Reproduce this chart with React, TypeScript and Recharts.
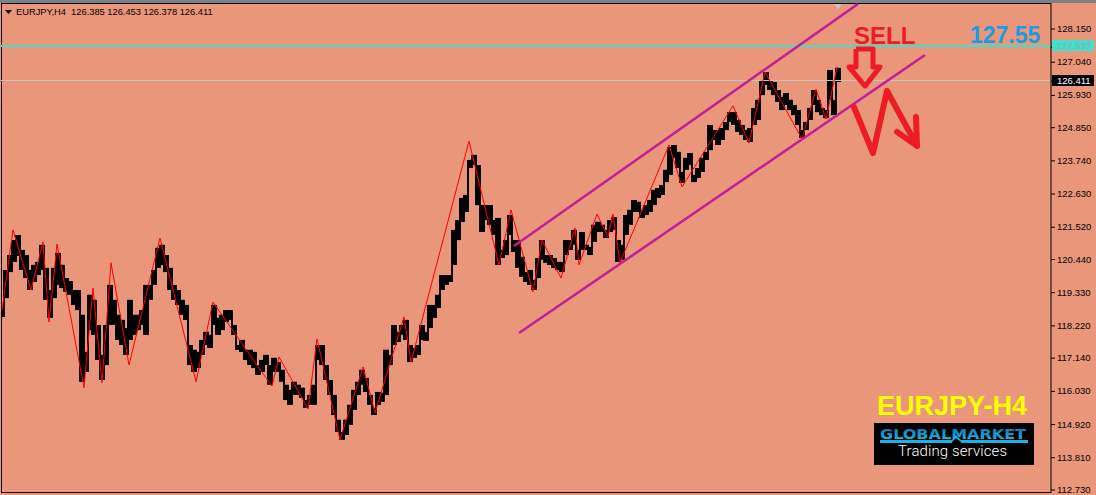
import React from 'react';
import { ComposedChart, Bar, Line, XAxis, YAxis, ReferenceLine } from 'recharts';

const WIDTH = 1096;
const HEIGHT = 495;
const SALMON = '#E9967A';
const RED = '#ed1c24';
const PURPLE = '#c01f98';
const AXIS_FONT = '"Liberation Sans", Arial, sans-serif';

const priceTicks = [128.15, 127.04, 125.93, 124.85, 123.74, 122.63, 121.52, 120.44, 119.33, 118.22, 117.14, 116.03, 114.92, 113.81, 112.73];
const askPrice = 127.537;
const bidPrice = 126.411;
// levels the two horizontal lines are drawn at
const askLine = 127.582;
const bidLine = 126.428;

// high / low of each group of candles, left to right, one group per 4 bars
const highs = [
  118.82, 120.09, 120.59, 121.09, 121.26, 120.76, 120.59, 120.09, 120.26, 120.36,
  120.93, 120.16, 119.42, 120.16, 120.66, 120.26, 119.82, 119.72, 119.42, 119.42,
  118.59, 117.35, 119.26, 119.09, 118.25, 117.25, 118.25, 119.59, 119.09, 118.59,
  118.42, 118.15, 119.09, 118.59, 118.59, 118.75, 119.59, 119.59, 120.09, 120.83,
  120.93, 120.59, 120.16, 119.59, 119.42, 119.09, 118.92, 117.58, 117.42, 117.35,
  117.75, 118.02, 117.92, 118.92, 118.49, 118.59, 118.75, 118.75, 118.25, 117.58,
  117.75, 117.42, 117.42, 117.35, 116.91,
  117.08, 117.25, 116.91, 117.15, 117.01, 116.75, 116.25, 116.08, 116.35, 116.25,
  116.15, 115.74, 115.91, 116.25, 117.58, 117.58, 116.91, 116.41, 115.91, 115.08,
  114.67, 115.08, 115.58, 116.08, 116.35, 116.75, 116.48, 115.91, 115.48, 116.01,
  115.98, 117.42, 117.25, 118.25, 118.02, 118.25, 118.42, 117.58, 117.48, 117.58,
  118.25, 118.02, 118.92, 118.92, 119.26, 119.92, 119.92, 119.92, 121.43, 121.76,
  122.5, 122.6, 123.77, 123.94, 123.6, 122.26, 122.26, 122.26, 121.76, 121.83,
  120.76, 121.09, 121.93, 121.09, 121.09,
  120.53, 120.02, 120.09, 119.76, 120.49, 121.09, 120.59, 120.59, 120.49, 120.36,
  120.36, 121.09, 121.09, 121.43, 120.76, 121.36, 120.93, 120.86, 121.6, 121.7,
  121.6, 121.43, 121.76, 121.86, 121.09, 120.93, 121.93, 122.1, 122.43, 122.37,
  122.1, 122.26, 122.43, 122.77, 122.83, 122.93, 123.44, 124.2, 124.27, 124.04,
  123.37, 123.84, 124.0, 123.27, 123.5, 123.84, 124.04, 124.94, 124.77, 124.77,
  124.84, 125.04, 125.37, 125.37, 125.11, 124.94, 124.77, 124.84, 125.51, 125.78,
  126.44, 126.71, 126.44, 126.38, 126.11, 125.88, 126.01, 125.78, 125.61, 125.44,
  124.77, 125.04, 125.51, 126.11, 125.78, 125.51, 125.44, 126.78, 125.78, 126.85,
];
const lows = [
  118.52, 119.15, 120.02, 120.36, 120.56, 120.09, 119.82, 119.42, 119.69, 119.92,
  120.09, 119.09, 118.49, 119.15, 119.59, 119.49, 119.36, 119.26, 118.92, 118.75,
  116.35, 116.68, 118.08, 117.92, 117.08, 116.41, 116.91, 118.25, 118.25, 117.75,
  117.58, 117.25, 117.75, 117.92, 118.08, 118.25, 117.92, 119.09, 119.59, 120.16,
  120.26, 120.02, 119.42, 119.09, 118.92, 118.59, 118.42, 116.91, 116.68, 116.81,
  117.25, 117.58, 117.48, 118.25, 117.92, 118.08, 118.35, 118.42, 117.92, 117.42,
  117.35, 117.08, 116.91, 116.81, 116.58,
  116.68, 116.91, 116.25, 116.68, 116.68, 116.35, 115.74, 115.58, 115.91, 115.91,
  115.81, 115.48, 115.58, 115.58, 117.08, 116.91, 116.41, 115.91, 115.24, 114.67,
  114.41, 114.57, 114.91, 115.41, 115.91, 116.25, 116.01, 115.58, 115.24, 115.58,
  115.68, 115.91, 116.91, 117.58, 117.68, 117.92, 117.75, 117.01, 117.15, 117.25,
  117.75, 117.72, 118.15, 118.49, 118.82, 119.42, 119.59, 119.69, 120.26, 121.09,
  121.7, 122.03, 123.5, 123.6, 122.26, 121.36, 121.76, 121.6, 121.26, 120.26,
  120.49, 120.59, 121.26, 120.69, 120.16,
  119.86, 119.69, 119.59, 119.42, 119.82, 120.43, 120.33, 120.26, 120.16, 120.09,
  120.02, 120.59, 120.76, 120.93, 120.43, 120.76, 120.76, 120.59, 121.03, 121.36,
  121.36, 121.16, 121.36, 121.43, 120.36, 120.43, 121.26, 121.6, 122.03, 122.03,
  121.83, 121.93, 122.03, 122.26, 122.5, 122.6, 123.03, 123.27, 123.84, 123.5,
  123.0, 123.44, 123.6, 123.03, 123.17, 123.37, 123.77, 124.1, 124.44, 124.27,
  124.44, 124.77, 125.04, 124.94, 124.71, 124.61, 124.44, 124.37, 124.94, 125.11,
  125.94, 126.28, 126.11, 125.94, 125.71, 125.44, 125.61, 125.44, 125.27, 124.94,
  124.51, 124.77, 125.11, 125.61, 125.37, 125.27, 125.17, 125.78, 125.27, 126.38,
];

const zigzagBars = [2, 13, 31, 43, 49, 57, 84, 93, 102, 111, 129, 160, 196, 213, 258, 272, 279, 308, 317, 340, 363, 375, 404, 411, 469, 499, 511, 533, 542, 561, 575, 579, 597, 608, 613, 620, 669, 682, 733, 749, 765, 802, 816, 826, 837];
const zigzagPrices = [118.75, 121.43, 119.42, 121.03, 118.35, 120.96, 116.15, 119.49, 116.31, 120.33, 116.91, 121.16, 116.35, 119.02, 116.85, 116.21, 117.18, 115.44, 117.78, 114.41, 116.85, 115.31, 118.52, 117.01, 124.4, 120.26, 122.1, 119.36, 121.09, 119.82, 121.5, 120.26, 121.96, 121.19, 121.96, 120.33, 124.27, 122.87, 125.58, 124.34, 126.71, 124.47, 126.14, 125.14, 126.88];

const upperChannelBars = [514, 858];
const upperChannelPrices = [120.89, 128.99];
const lowerChannelBars = [519, 925];
const lowerChannelPrices = [117.98, 127.28];

const sellArrowBars = [856, 873, 873, 880, 865, 849, 856, 856];
const sellArrowPrices = [127.48, 127.48, 126.88, 126.88, 126.24, 126.88, 126.88, 127.48];
const zigArrowBars = [854, 873, 887, 917];
const zigArrowPrices = [125.54, 124.0, 126.08, 124.24];
const zigHeadBars = [897, 917, 916];
const zigHeadPrices = [124.71, 124.24, 125.21];

// wick closes the step between one group of candles and the next
const candles = highs.map((high, i) => {
  const nextHigh = highs[i + 1] ?? high;
  const nextLow = lows[i + 1] ?? lows[i];
  return {
    bar: 2 + i * 4,
    range: [lows[i], high],
    wick: [Math.min(lows[i], nextLow), Math.max(high, nextHigh)],
  };
});
const toPoints = (bars: number[], prices: number[]) => bars.map((bar, i) => ({ bar, price: prices[i] }));

// the axis band is narrower than a group of candles, so size the block here
const CandleBlock = (props: any) => {
  const { x, y, width, height } = props;
  const center = Math.round(x + width / 2);
  return <rect x={center - 2} y={y} width={4} height={height} fill="#000" />;
};

const CandleWick = (props: any) => {
  const { x, y, width, height } = props;
  const center = Math.round(x + width / 2);
  return <rect x={center + 1} y={y} width={2} height={height} fill="#000" />;
};

const PriceTick = (props: any) => {
  const { x, y, payload } = props;
  const value: number = payload.value;
  const isAsk = value === askPrice;
  const isBid = value === bidPrice;
  const top = Math.round(y) - (isAsk ? 7 : 6);
  return (
    <g>
      {isAsk && <rect x={x - 5} y={top} width={42} height={11} fill="#40E0D0" />}
      {isBid && <rect x={x - 5} y={top} width={42} height={11} fill="#000" />}
      <text
        x={x}
        y={isAsk ? y - 1 : y}
        dy={3}
        fontFamily={AXIS_FONT}
        fontSize={9.5}
        fill={isAsk ? '#9aa8a8' : isBid ? '#fff' : '#000'}
      >
        {value.toFixed(3)}
      </text>
    </g>
  );
};

const Overlay = () => (
  <svg width={WIDTH} height={HEIGHT} style={{ position: 'absolute', left: 0, top: 0 }}>
    <defs>
      <linearGradient id="logoBlue" x1="0" y1="0" x2="0" y2="1">
        <stop offset="0%" stopColor="#0a6fb0" />
        <stop offset="100%" stopColor="#17c4ee" />
      </linearGradient>
    </defs>
    <polygon points="5,10 12,10 8.5,14" fill="#000" />
    <text x={16} y={15} fontFamily={AXIS_FONT} fontSize={9.3} fill="#000" xmlSpace="preserve">
      EURJPY,H4  126.385 126.453 126.378 126.411
    </text>
    <polygon points="834,4 842,4 838,9" fill="#c8c8c8" />
    <text x={854} y={44} fontFamily={AXIS_FONT} fontSize={24} fontWeight={700} fill={RED}>SELL</text>
    <text x={970} y={43} fontFamily={AXIS_FONT} fontSize={23} fontWeight={700} fill="#1b9be0">127.55</text>
    <text x={877} y={415} fontFamily={AXIS_FONT} fontSize={27} fontWeight={700} fill="#ffff00">EURJPY-H4</text>
    <rect x={874} y={423} width={160} height={42} fill="#000" />
    <text x={880} y={439} fontFamily="DejaVu Sans, sans-serif" fontSize={13.5} fontWeight={700} fill="url(#logoBlue)" textLength={146} lengthAdjust="spacingAndGlyphs">GLOBALMARKET</text>
    <rect x={880} y={440} width={72} height={3} fill="#17b4e6" />
    <rect x={961} y={440} width={67} height={3} fill="#17b4e6" />
    <polygon points="952,440 956,435 961,440 961,442 956,438 952,442" fill="#17b4e6" />
    <text x={898} y={456} fontFamily="Roboto, sans-serif" fontWeight={300} fontSize={15} fill="#fff" textLength={109}>Trading services</text>
  </svg>
);

const App = () => (
  <div style={{ position: 'absolute', left: 0, top: 0, width: WIDTH, height: HEIGHT, background: SALMON, overflow: 'hidden' }}>
    <div style={{ position: 'absolute', left: 0, top: 0, width: WIDTH, height: 3, background: '#808080' }} />
    <div style={{ position: 'absolute', left: 1, top: 3, width: 1050, height: 490, borderLeft: '1px solid #000', borderTop: '1px solid #000', borderBottom: '1px solid #000', boxSizing: 'border-box' }} />
    <div style={{ position: 'absolute', left: 0, top: 0 }}>
      <ComposedChart width={WIDTH} height={HEIGHT} data={candles} margin={{ top: 3, right: 0, bottom: 2, left: 1 }}>
        <XAxis dataKey="bar" type="number" domain={[1, 1051]} hide allowDataOverflow />
        <YAxis
          orientation="right"
          width={45}
          domain={[112.63, 129.02]}
          allowDataOverflow
          ticks={[...priceTicks, askPrice, bidPrice]}
          interval={0}
          tickSize={4}
          tickMargin={2}
          stroke="#000"
          tick={<PriceTick />}
        />
        <ReferenceLine y={bidLine} stroke="#c4c4c4" strokeWidth={1} />
        <ReferenceLine y={askLine} stroke="#40E0D0" strokeWidth={2} />
        <Bar dataKey="wick" fill="#000" shape={<CandleWick />} isAnimationActive={false} />
        <Bar dataKey="range" fill="#000" shape={<CandleBlock />} isAnimationActive={false} />
        <Line data={toPoints(zigzagBars, zigzagPrices)} dataKey="price" stroke="#ff0000" strokeWidth={1} dot={false} isAnimationActive={false} />
        <Line data={toPoints(upperChannelBars, upperChannelPrices)} dataKey="price" stroke={PURPLE} strokeWidth={2.5} dot={false} isAnimationActive={false} />
        <Line data={toPoints(lowerChannelBars, lowerChannelPrices)} dataKey="price" stroke={PURPLE} strokeWidth={2.5} dot={false} isAnimationActive={false} />
        <Line data={toPoints(sellArrowBars, sellArrowPrices)} dataKey="price" stroke={RED} strokeWidth={5} strokeLinejoin="round" dot={false} isAnimationActive={false} />
        <Line data={toPoints(zigArrowBars, zigArrowPrices)} dataKey="price" stroke={RED} strokeWidth={6} strokeLinejoin="round" strokeLinecap="round" dot={false} isAnimationActive={false} />
        <Line data={toPoints(zigHeadBars, zigHeadPrices)} dataKey="price" stroke={RED} strokeWidth={6} strokeLinejoin="round" strokeLinecap="round" dot={false} isAnimationActive={false} />
      </ComposedChart>
    </div>
    <Overlay />
  </div>
);

export default App;
